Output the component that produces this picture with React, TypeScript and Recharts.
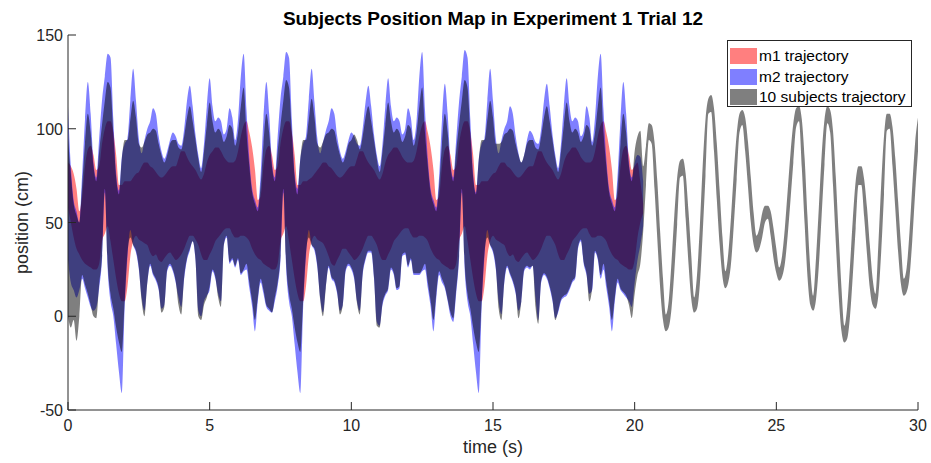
import { ComposedChart, Area, XAxis, YAxis, Label } from "recharts";

// one sample every 0.1 s; m1 / m2 stop at 20.3 s, the subjects band runs to 30 s
const SAMPLE_STEP = 0.1;

const m1Low = [
  58, 50, 42, 36, 33, 30, 28, 27, 26, 25, 25, 28, 40, 44, 48, 40, 30, 20, 12, 8,
  8, 16, 32, 40, 43, 41, 40, 39, 38, 34, 32, 33, 30, 29, 31, 33, 34, 32, 30, 31,
  33, 36, 40, 43, 43, 41, 38, 33, 30, 30, 33, 36, 40, 42, 44, 46, 47, 47, 44, 42,
  42, 43, 43,
  42, 40, 36, 33, 31, 30, 28, 27, 26, 25, 25, 28, 40, 44, 48, 40, 30, 20, 12, 8,
  8, 16, 32, 40, 43, 41, 40, 39, 36, 32, 28, 27, 30, 33, 36, 36, 34, 32, 30, 31,
  33, 36, 40, 43, 43, 41, 38, 33, 30, 30, 33, 36, 40, 42, 44, 46, 47, 47, 44, 42,
  42, 43, 43,
  42, 40, 36, 33, 31, 30, 28, 27, 26, 25, 25, 28, 40, 44, 48, 40, 30, 20, 12, 8,
  8, 16, 32, 40, 43, 41, 40, 39, 38, 34, 32, 33, 30, 29, 31, 33, 34, 32, 30, 31,
  33, 36, 40, 43, 43, 41, 38, 33, 30, 30, 33, 36, 40, 42, 44, 46, 47, 47, 44, 42,
  42, 43, 43,
  42, 40, 36, 33, 31, 30, 28, 27, 26, 25, 25, 30, 42, 50, 55,
];
const m1High = [
  82, 80, 76, 68, 56, 64, 80, 89, 91, 86, 78, 80, 92, 100, 104, 104, 98, 86, 70, 70,
  72, 72, 72, 74, 76, 77, 80, 82, 82, 80, 79, 77, 75, 74, 75, 77, 79, 80, 80, 84,
  88, 88, 85, 82, 80, 78, 75, 73, 76, 82, 86, 88, 90, 90, 88, 85, 83, 82, 82, 83,
  88, 96, 102,
  104, 98, 90, 78, 62, 64, 80, 89, 91, 86, 78, 80, 92, 100, 104, 104, 98, 86, 70, 70,
  72, 72, 73, 74, 76, 78, 80, 82, 82, 80, 79, 77, 75, 74, 75, 77, 79, 80, 80, 84,
  88, 88, 85, 82, 80, 78, 75, 73, 76, 82, 86, 88, 90, 90, 88, 85, 83, 82, 82, 83,
  88, 96, 102,
  104, 98, 90, 78, 62, 64, 80, 89, 91, 86, 78, 80, 92, 100, 104, 104, 98, 86, 70, 70,
  72, 72, 72, 74, 76, 77, 80, 82, 82, 80, 79, 77, 75, 74, 75, 77, 79, 80, 80, 84,
  88, 88, 85, 82, 80, 78, 75, 73, 76, 82, 86, 88, 90, 90, 88, 85, 83, 82, 82, 83,
  88, 96, 102,
  104, 98, 90, 78, 62, 64, 80, 89, 91, 86, 78, 80, 82, 72, 60,
];

const m2Low = [
  30, 18, 14, 10, 14, 20, 15, 10, 5, 3, 5, 15, 30, 66, 25, 8, 0, -15, -30, -41,
  5, 32, 46, 38, 34, 25, 10, 3, 18, 27, 22, 19, 14, 4, 6, 24, 27, 24, 18, 10,
  5, 20, 30, 35, 40, 30, 3, 0, 8, 11, 14, 24, 20, 12, 8, 38, 42, 28, 30, 26,
  30, 22, 24,
  25, 15, 5, -8, 8, 18, 12, 5, 3, 2, 8, 16, 30, 66, 25, 8, 0, -15, -30, -41,
  5, 32, 46, 38, 35, 26, 10, 2, 16, 26, 20, 18, 12, 3, 6, 24, 27, 25, 20, 8,
  3, 22, 30, 34, 34, 20, -3, -5, 6, 11, 14, 25, 22, 14, 15, 32, 33, 26, 30, 22,
  22, 22, 24,
  25, 15, 5, -8, 10, 22, 18, 15, 8, 0, -3, 12, 30, 66, 25, 8, 0, -15, -30, -41,
  5, 32, 46, 38, 34, 25, 8, 1, 18, 26, 22, 18, 12, 3, 8, 24, 26, 25, 27, 10,
  -2, 18, 22, 20, 15, 8, -1, 2, 8, 10, 11, 14, 18, 20, 36, 40, 28, 22, 12, 14,
  34, 30, 20,
  25, 15, 5, -8, 8, 18, 14, 12, 10, 8, 5, 18, 30, 38, 48,
];
const m2High = [
  112, 80, 62, 56, 50, 76, 105, 125, 108, 82, 74, 95, 115, 128, 140, 138, 105, 76, 67, 85,
  92, 95, 115, 132, 115, 95, 87, 94, 100, 104, 111, 108, 96, 88, 84, 88, 94, 98, 96, 92,
  91, 100, 115, 123, 112, 97, 86, 79, 92, 112, 127, 112, 104, 106, 104, 97, 100, 111, 106, 94,
  105, 128, 140,
  110, 84, 68, 62, 58, 76, 106, 125, 108, 82, 74, 96, 116, 128, 141, 138, 105, 76, 68, 84,
  92, 96, 116, 132, 114, 95, 87, 93, 99, 104, 111, 108, 96, 88, 84, 88, 94, 98, 96, 92,
  91, 100, 114, 123, 112, 97, 86, 80, 92, 112, 127, 112, 104, 106, 104, 97, 100, 111, 106, 94,
  104, 128, 141,
  110, 84, 68, 62, 58, 75, 105, 124, 108, 82, 74, 94, 114, 128, 142, 138, 105, 76, 66, 84,
  92, 95, 115, 132, 115, 95, 87, 94, 100, 104, 112, 108, 96, 87, 82, 86, 94, 99, 97, 93,
  92, 100, 115, 124, 112, 97, 86, 79, 92, 112, 127, 112, 104, 106, 104, 96, 99, 112, 106, 93,
  106, 128, 140,
  110, 84, 68, 62, 58, 76, 105, 125, 108, 82, 74, 82, 86, 85, 72,
];

const subjLow = [
  0, -6, -2, -13, 0, 22, 17, 12, 6, 0, -1, 17, 32, 68, 28, 12, 4, -6, -14, -19,
  8, 34, 42, 38, 35, 26, 8, 0, 18, 28, 23, 20, 15, 2, 5, 25, 28, 25, 19, 6,
  1, 21, 31, 36, 40, 30, 0, -2, 6, 10, 16, 25, 21, 10, 5, 38, 43, 29, 31, 27,
  31, 23, 25,
  28, 18, 8, -2, 10, 20, 14, 6, 4, 2, 10, 18, 32, 68, 28, 12, 4, -6, -14, -19,
  8, 34, 42, 38, 36, 27, 9, 0, 15, 27, 21, 19, 13, 1, 6, 25, 28, 26, 21, 7,
  1, 23, 31, 35, 35, 21, -5, -6, 7, 12, 15, 26, 23, 15, 16, 33, 34, 27, 31, 23,
  23, 23, 25,
  28, 18, 8, -2, 12, 24, 20, 16, 9, 2, -1, 14, 32, 68, 28, 12, 4, -6, -14, -19,
  8, 34, 42, 38, 35, 26, 4, -2, 19, 27, 23, 19, 13, -1, 8, 25, 27, 26, 27, 5,
  -4, 19, 23, 21, 16, 9, -2, 3, 9, 11, 12, 15, 19, 21, 37, 41, 29, 23, 8, 15,
  35, 31, 22,
  28, 18, 8, -2, 10, 20, 15, 13, 11, 6, -1, 12, 22, 28, 45,
  // 20.4 s onwards: thin band
  70, 94, 92, 68, 41, 15, -2, -8, -6, 4, 24, 49, 74, 75, 52, 28, 9, 2, 4, 17,
  44, 75, 108, 109, 88, 62, 38, 21, 15, 18, 28, 49, 73, 98, 102, 88, 69, 50, 38, 34,
  36, 42, 50, 52, 43, 31, 23, 19, 21, 28, 43, 62, 82, 101, 104, 79, 49, 21, 6, 3,
  9, 27, 54, 81, 103, 98, 70, 39, 11, -8, -14, -12, 0, 22, 47, 70, 70, 53, 33, 15,
  6, 4, 11, 34, 65, 99, 100, 80, 57, 34, 17, 11, 13, 21, 41, 66, 88,
];
const subjHigh = [
  95, 76, 60, 54, 50, 70, 92, 108, 98, 80, 72, 88, 102, 115, 125, 122, 98, 74, 65, 84,
  94, 94, 105, 115, 106, 92, 90, 93, 97, 98, 100, 99, 92, 86, 82, 86, 92, 94, 94, 90,
  89, 96, 106, 112, 104, 94, 84, 77, 88, 102, 114, 104, 98, 100, 98, 93, 96, 102, 100, 91,
  98, 112, 122,
  98, 80, 66, 60, 56, 70, 92, 108, 98, 80, 72, 88, 102, 115, 126, 122, 98, 74, 65, 84,
  94, 94, 105, 116, 106, 92, 90, 93, 97, 98, 100, 99, 92, 86, 82, 86, 92, 94, 97, 94,
  89, 96, 106, 112, 104, 94, 84, 77, 88, 102, 114, 104, 98, 100, 98, 93, 96, 102, 100, 91,
  98, 112, 122,
  98, 80, 66, 60, 56, 70, 92, 108, 98, 80, 72, 88, 102, 115, 126, 122, 98, 74, 65, 84,
  94, 94, 105, 115, 106, 92, 92, 93, 97, 98, 100, 99, 92, 86, 82, 86, 92, 94, 94, 90,
  89, 96, 106, 112, 104, 94, 84, 77, 88, 102, 114, 104, 98, 100, 98, 93, 96, 102, 100, 91,
  98, 112, 122,
  98, 80, 66, 60, 56, 70, 92, 108, 98, 80, 72, 88, 96, 99, 80,
  // 20.4 s onwards: thin band
  91, 103, 102, 93, 72, 45, 20, 1, 8, 29, 54, 74, 83, 84, 76, 56, 32, 10, 22, 48,
  80, 105, 116, 118, 111, 92, 67, 42, 24, 33, 53, 77, 97, 108, 110, 106, 93, 74, 55, 43,
  47, 55, 59, 59, 56, 47, 36, 26, 32, 47, 67, 87, 103, 111, 112, 105, 84, 53, 25, 11,
  31, 58, 86, 105, 112, 110, 99, 74, 44, 15, -5, 5, 27, 52, 72, 80, 80, 73, 58, 38,
  20, 12, 38, 70, 96, 108, 108, 101, 84, 61, 38, 20, 26, 45, 70, 93, 106,
];

const xTicks = [0, 5, 10, 15, 20, 25, 30];
const yTicks = [-50, 0, 50, 100, 150];

const legendItems = [
  { name: "m1 trajectory", color: "#ff0000" },
  { name: "m2 trajectory", color: "#0000ff" },
  { name: "10 subjects trajectory", color: "#000000" },
];

const rows = subjLow.map((lo, i) => ({
  t: Math.round(i * SAMPLE_STEP * 10) / 10,
  m1: i < m1Low.length ? [m1Low[i], m1High[i]] : undefined,
  m2: i < m2Low.length ? [m2Low[i], m2High[i]] : undefined,
  subj: [lo, subjHigh[i]],
}));

const FONT = "'Liberation Sans', Arial, Helvetica, sans-serif";
const AXIS = "#262626";
const TICK = 8;

// MATLAB style: tick marks point into the box
const BottomTick = ({ x, y, payload }: any) => (
  <g>
    <line x1={x} y1={y} x2={x} y2={y - TICK} stroke={AXIS} />
    <text x={x} y={y + 21} textAnchor="middle" fontSize={16} fill={AXIS} fontFamily={FONT}>
      {payload.value}
    </text>
  </g>
);
const TopTick = ({ x, y }: any) => <line x1={x} y1={y} x2={x} y2={y + TICK} stroke={AXIS} />;
const LeftTick = ({ x, y, payload }: any) => (
  <g>
    <line x1={x} y1={y} x2={x + TICK} y2={y} stroke={AXIS} />
    <text x={x - 5} y={y + 6} textAnchor="end" fontSize={16} fill={AXIS} fontFamily={FONT}>
      {payload.value}
    </text>
  </g>
);
const RightTick = ({ x, y }: any) => <line x1={x} y1={y} x2={x - TICK} y2={y} stroke={AXIS} />;

export default function App() {
  return (
    <div style={{ position: "absolute", left: 0, top: 0, width: 931, height: 463, background: "#fff", fontFamily: FONT }}>
      <div
        style={{
          position: "absolute",
          left: 68,
          width: 850,
          top: 8,
          textAlign: "center",
          fontSize: 19,
          fontWeight: "bold",
          color: "#000",
          lineHeight: "22px",
        }}
      >
        Subjects Position Map in Experiment 1 Trial 12
      </div>
      <ComposedChart width={931} height={463} data={rows} margin={{ top: 35, right: 13, bottom: 0, left: 0 }}>
        <Area xAxisId="b" yAxisId="l" dataKey="m1" type="monotone" stroke="none" fill="#ff0000" fillOpacity={0.5} isAnimationActive={false} />
        <Area xAxisId="b" yAxisId="l" dataKey="m2" type="monotone" stroke="none" fill="#0000ff" fillOpacity={0.5} isAnimationActive={false} />
        <Area xAxisId="b" yAxisId="l" dataKey="subj" type="monotone" stroke="none" fill="#000000" fillOpacity={0.5} isAnimationActive={false} />
        <XAxis
          xAxisId="b"
          dataKey="t"
          type="number"
          domain={[0, 30]}
          ticks={xTicks}
          interval={0}
          allowDataOverflow
          height={53}
          tickSize={0}
          tickMargin={0}
          tickLine={false}
          axisLine={{ stroke: AXIS }}
          tick={<BottomTick />}
        >
          <Label value="time (s)" position="insideBottom" offset={10} fontSize={18} fill={AXIS} fontFamily={FONT} />
        </XAxis>
        <XAxis
          xAxisId="t"
          orientation="top"
          dataKey="t"
          type="number"
          domain={[0, 30]}
          ticks={xTicks}
          interval={0}
          allowDataOverflow
          height={0}
          tickSize={0}
          tickMargin={0}
          tickLine={false}
          axisLine={{ stroke: AXIS }}
          tick={<TopTick />}
        />
        <YAxis
          yAxisId="l"
          type="number"
          domain={[-50, 150]}
          ticks={yTicks}
          interval={0}
          allowDataOverflow
          width={68}
          tickSize={0}
          tickMargin={0}
          tickLine={false}
          axisLine={{ stroke: AXIS }}
          tick={<LeftTick />}
        >
          <Label value="position (cm)" angle={-90} position="center" dx={-12} fontSize={18} fill={AXIS} fontFamily={FONT} />
        </YAxis>
        <YAxis
          yAxisId="r"
          orientation="right"
          type="number"
          domain={[-50, 150]}
          ticks={yTicks}
          interval={0}
          allowDataOverflow
          width={0}
          tickSize={0}
          tickMargin={0}
          tickLine={false}
          axisLine={{ stroke: AXIS }}
          tick={<RightTick />}
        />
      </ComposedChart>
      <div
        style={{
          position: "absolute",
          left: 727,
          top: 40,
          width: 185,
          height: 67,
          border: "1px solid #262626",
          background: "#fff",
          paddingTop: 5,
          boxSizing: "border-box",
        }}
      >
        {legendItems.map((item) => (
          <div key={item.name} style={{ display: "flex", alignItems: "center", height: 20.5, marginLeft: 2 }}>
            <div style={{ width: 27, height: 16, background: item.color, opacity: 0.5, flex: "none" }} />
            <span style={{ fontSize: 15.5, color: "#000", marginLeft: 2, whiteSpace: "nowrap" }}>{item.name}</span>
          </div>
        ))}
      </div>
    </div>
  );
}
